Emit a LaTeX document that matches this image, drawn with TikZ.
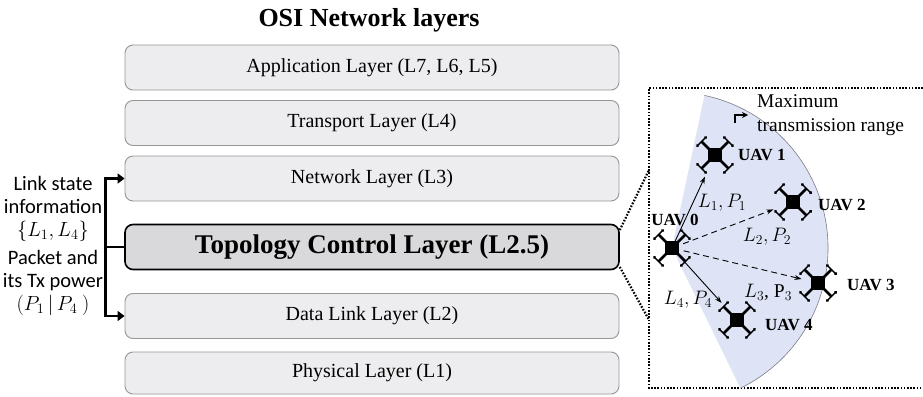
\RequirePackage{fix-cm}
\documentclass[tikz,border=0pt]{standalone}
\usepackage{fontspec}
\setmainfont{Liberation Serif}
\newfontfamily\carlito{Carlito}
\usetikzlibrary{arrows.meta}

\definecolor{layerfill}{RGB}{237,237,239}
\definecolor{layerline}{RGB}{150,150,152}
\definecolor{tclfill}{RGB}{217,216,218}
\definecolor{rangefill}{RGB}{222,228,245}
\definecolor{rangeline}{RGB}{125,125,135}

\newcommand\titlefont{\fontsize{26}{30}\selectfont\bfseries}
\newcommand\layerfont{\fontsize{20}{24}\selectfont}
\newcommand\tclfont{\fontsize{27}{31}\selectfont\bfseries}
\newcommand\sidefont{\carlito\fontsize{20.5}{23}\selectfont}
\newcommand\uavfont{\fontsize{17}{20}\selectfont\bfseries}
\newcommand\linkfont{\fontsize{19.5}{22}\selectfont}
\newcommand\rangefont{\fontsize{19.5}{24}\selectfont}

% quadcopter symbol, about 40pt across
\tikzset{
  drone/.pic={
    \foreach \a in {45,135,225,315}{
      \begin{scope}[rotate=\a]
        \draw[line width=2.6pt] (0,0) -- (19,0);
        \draw[line width=1.4pt] (19,-5.5) -- (19,5.5);
        \fill (19,-5.8) circle (1.7) (19,5.8) circle (1.7);
      \end{scope}
    }
    \fill (-7,-7) rectangle (7,7);
  }
}

\begin{document}
\begin{tikzpicture}[x=1pt, y=-1pt,
  layer/.style={draw=layerline, fill=layerfill, line width=0.9pt, rounded corners=8pt,
    minimum width=494pt, minimum height=45pt, inner sep=0pt, font=\layerfont},
  tcl/.style={layer, draw=black, line width=1.6pt, fill=tclfill, font=\tclfont},
  bus/.style={line width=2.6pt},
  busarrow/.style={-{Triangle[length=7pt,width=10pt]}},
  note/.style={align=center, font=\sidefont, inner sep=0pt},
  dotframe/.style={line width=2.2pt, dash pattern=on 1.6pt off 1.6pt},
  link/.style={-{Stealth[length=7pt,width=5pt]}, line width=0.9pt},
  probe/.style={link, dash pattern=on 6pt off 4pt},
  uavname/.style={font=\uavfont, inner sep=0pt},
  linkname/.style={font=\linkfont, inner sep=0pt},
  pointer/.style={-{Stealth[length=6pt,width=6pt]}, line width=1.2pt}
]
\useasboundingbox (0,0) rectangle (923,396);

\node[font=\titlefont] (title) at (369,20) {OSI Network layers};

% protocol stack
\node[layer] (app)   at (372,67.5)  {Application Layer (L7, L6, L5)};
\node[layer] (trans) at (372,123)   {Transport Layer (L4)};
\node[layer] (net)   at (372,178.5) {Network Layer (L3)};
\node[tcl]   (topo)  at (372,247)   {Topology Control Layer (L2.5)};
\node[layer] (dl)    at (372,316)   {Data Link Layer (L2)};
\node[layer, minimum height=42pt] (phy) at (372,373) {Physical Layer (L1)};

% cross-layer information from L2.5
\draw[bus] (topo.west) -- ++(-19,0) coordinate (fork);
\draw[bus, busarrow] (fork) |- (net.west);
\draw[bus, busarrow] (fork) |- (dl.west);

\node[note] (lsi) at (53,209) {Link state\\information\\$\{L_1, L_4\}$};
\node[note] (ptx) at (53,283) {Packet and\\its Tx power\\$(P_1\,|\,P_4\ )$};

% zoomed view of the topology
\coordinate (zt) at (649,170);
\coordinate (zb) at (649,320);
\draw[dotframe] (923,88) -- (649,88) -- (649,388) -- (923,388);
\draw[dotframe] ([yshift=17pt]topo.east) -- (zt);
\draw[dotframe] ([yshift=-20pt]topo.east) -- (zb);

\coordinate (u0) at (672,248);
\coordinate (u1) at (715,155);
\coordinate (u2) at (793,202);
\coordinate (u3) at (818,283);
\coordinate (u4) at (737,320);

% radio range of UAV 0
\fill[rangefill] (u0) -- ++(-78:156) arc[start angle=-78, end angle=64, radius=156] -- cycle;
\draw[rangeline, line width=0.6pt] (u0) ++(-78:156) arc[start angle=-78, end angle=64, radius=156];

\draw[link, shorten <=5pt, shorten >=24pt] (u0) -- (u1);
\draw[probe, shorten <=12pt, shorten >=21pt] (u0) -- (u2);
\draw[probe, shorten <=12pt, shorten >=17pt] (u0) -- (u3);
\draw[link, shorten <=8pt, shorten >=23pt] (u0) -- (u4);

\foreach \i in {0,...,4}
  \pic at (u\i) {drone};

\node[uavname] (n0) at (675,220) {UAV 0};
\node[uavname, anchor=west] (n1) at (738,155) {UAV 1};
\node[uavname, anchor=west] (n2) at (818,205) {UAV 2};
\node[uavname, anchor=west] (n3) at (847,285) {UAV 3};
\node[uavname, anchor=west] (n4) at (765,325) {UAV 4};

\node[linkname] (l1) at (722,203) {$L_1, P_1$};
\node[linkname] (l2) at (767,237) {$L_2, P_2$};
\node[linkname] (l3) at (768,292) {$L_3$, P$_3$};
\node[linkname] (l4) at (688,300) {$L_4, P_4$};

\node[anchor=west, align=left, font=\rangefont, inner xsep=9pt, inner ysep=0pt] (range) at (748,115) {Maximum\\transmission range};
\coordinate (rfoot) at (735,123);
\draw[pointer] (rfoot) |- (range.west);
\end{tikzpicture}
\end{document}
